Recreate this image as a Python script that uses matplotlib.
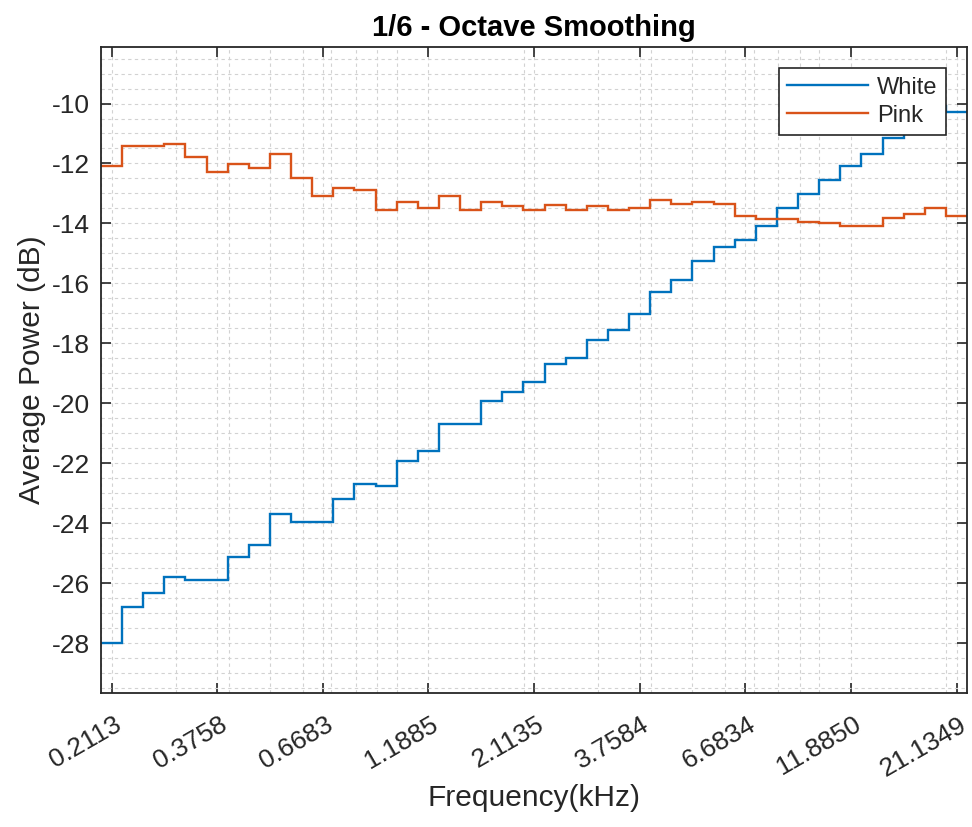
import matplotlib
matplotlib.use("Agg")
import matplotlib.pyplot as plt
import matplotlib.ticker as mticker
from matplotlib.transforms import ScaledTranslation
import numpy as np

plt.rcParams['font.family'] = ['Liberation Sans', 'DejaVu Sans']
plt.rcParams['axes.unicode_minus'] = False  # 用短横线显示负号

# 1/6 倍频程中心频率 (kHz)，41 个频带
n_bands = 41
f_first = 0.2113
tick_vals = [0.2113, 0.3758, 0.6683, 1.1885, 2.1135, 3.7584, 6.6834, 11.8850, 21.1349]
tick_labels = ["0.2113", "0.3758", "0.6683", "1.1885", "2.1135", "3.7584", "6.6834", "11.8850", "21.1349"]

white = [-27.98, -26.78, -26.31, -25.78, -25.89, -25.89, -25.11, -24.72, -23.70, -23.97,
         -23.97, -23.18, -22.70, -22.76, -21.91, -21.58, -20.70, -20.70, -19.91, -19.62,
         -19.30, -18.69, -18.50, -17.89, -17.56, -17.02, -16.30, -15.89, -15.25, -14.78,
         -14.56, -14.08, -13.50, -13.03, -12.56, -12.09, -11.70, -11.15, -10.60, -10.09,
         -10.28]
pink = [-12.09, -11.42, -11.42, -11.36, -11.80, -12.28, -12.02, -12.16, -11.70, -12.48,
        -13.08, -12.81, -12.89, -13.56, -13.30, -13.48, -13.09, -13.56, -13.30, -13.42,
        -13.56, -13.37, -13.56, -13.42, -13.56, -13.49, -13.22, -13.36, -13.29, -13.36,
        -13.76, -13.84, -13.84, -13.96, -14.00, -14.08, -14.08, -13.82, -13.69, -13.49,
        -13.76]

# 频带边界（中心频率上下各 1/12 倍频程）
k = np.arange(n_bands + 1)
edges = f_first * 10 ** (0.05 * (k - 0.5))

txt = '#262626'
fig = plt.figure(figsize=(9.72, 8.27), dpi=100)
ax = fig.add_axes([0.1039, 0.162, 0.8910, 0.781])

ax.stairs(white, edges, baseline=None, color='#0072BD', lw=1.7, label='White')
ax.stairs(pink, edges, baseline=None, color='#D95319', lw=1.7, label='Pink')

ax.set_xscale('log')
ax.set_xlim(edges[0], edges[-1])
ax.set_ylim(-29.66, -8.12)

ax.xaxis.set_minor_locator(mticker.LogLocator(base=10, subs=np.arange(1, 10), numticks=20))
ax.xaxis.set_minor_formatter(mticker.NullFormatter())
ax.set_xticks(tick_vals)
ax.set_xticklabels(tick_labels, rotation=30, ha='right', rotation_mode='anchor')
ax.set_yticks(np.arange(-28, -9, 2))
ax.yaxis.set_minor_locator(mticker.MultipleLocator(0.5))

ax.grid(True, which='both', linestyle=(0, (3, 3)), color='#d2d2d2', lw=0.8)
ax.set_axisbelow(True)

ax.tick_params(which='major', direction='in', length=7, width=1.2, top=True, right=True,
               labelsize=19, colors=txt)
ax.tick_params(axis='x', which='major', pad=14)
ax.tick_params(axis='y', which='major', pad=8)
ax.tick_params(which='minor', length=0, top=True, right=True)
for s in ax.spines.values():
    s.set_color(txt)
    s.set_linewidth(1.3)

# 刻度标签整体右移一点
shift = ScaledTranslation(2 / 100, 0, fig.dpi_scale_trans)
for lab in ax.get_xticklabels():
    lab.set_transform(lab.get_transform() + shift)

ax.set_title("1/6 - Octave Smoothing", fontsize=21, fontweight='bold', color='black', pad=8)
ax.set_xlabel("Frequency(kHz)", fontsize=21.5, color=txt, labelpad=2)
ax.set_ylabel("Average Power (dB)", fontsize=21.5, color=txt, labelpad=4)

leg = ax.legend(loc='upper right', fontsize=17, handlelength=3.4, fancybox=False,
                framealpha=1, edgecolor=txt, borderaxespad=0.9, labelspacing=0.25,
                borderpad=0.35, handletextpad=0.4)
leg.get_frame().set_linewidth(1.2)
for t in leg.get_texts():
    t.set_color(txt)

fig.savefig("out.png", dpi=100)
